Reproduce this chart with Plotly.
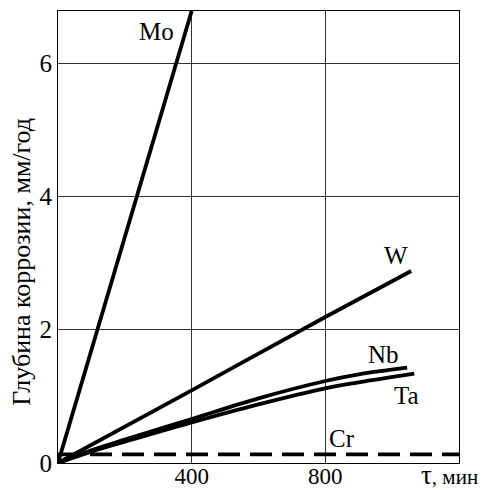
import plotly.graph_objects as go

# Data (time in minutes, corrosion depth in mm/year)
mo_x = [0, 400]
mo_y = [0, 6.78]
w_x = [0, 400, 800, 1057]
w_y = [0, 1.09, 2.19, 2.88]
nb_x = [0, 100, 200, 400, 600, 800, 900, 1045]
nb_y = [0, 0.19, 0.35, 0.66, 0.97, 1.23, 1.33, 1.43]
ta_x = [0, 100, 200, 400, 600, 800, 900, 1066]
ta_y = [0, 0.17, 0.32, 0.61, 0.88, 1.12, 1.21, 1.34]
cr_x = [0, 1200]
cr_y = [0.13, 0.13]

x_ticks = [400, 800]
y_ticks = [0, 2, 4, 6]

labels = [("Mo", 295, 6.48), ("W", 1012, 3.12), ("Nb", 973, 1.63), ("Ta", 1043, 1.02), ("Cr", 849, 0.37)]

FONT = "Liberation Serif, Times New Roman, serif"
fig = go.Figure()
for xs, ys in [(mo_x, mo_y), (w_x, w_y), (nb_x, nb_y), (ta_x, ta_y)]:
    fig.add_trace(go.Scatter(x=xs, y=ys, mode="lines", line=dict(color="black", width=3.8, shape="spline"),
                             showlegend=False, hoverinfo="skip"))
fig.add_trace(go.Scatter(x=cr_x, y=cr_y, mode="lines", line=dict(color="black", width=3.8, dash="22px,10px"),
                         showlegend=False, hoverinfo="skip"))

for t, x, y in labels:
    fig.add_annotation(x=x, y=y, xref="x", yref="y", text=t, showarrow=False,
                       font=dict(family=FONT, size=25, color="black"))

fig.add_annotation(x=1.052, y=0, xref="paper", yref="paper", xanchor="right", yanchor="middle",
                   yshift=-12, showarrow=False,
                   text="<span style='font-size:27px'>τ</span>, мин",
                   font=dict(family=FONT, size=21, color="black"))

# y-axis title as rotated annotation (placed as in reference)
fig.add_annotation(x=-0.09, y=0.445, xref="paper", yref="paper", xanchor="center", yanchor="middle",
                   textangle=-90, showarrow=False, text="Глубина коррозии, мм/год",
                   font=dict(family=FONT, size=26, color="black"))

fig.update_xaxes(range=[0, 1200], tickvals=x_ticks, ticks="", showgrid=True, gridcolor="#333",
                 gridwidth=1, showline=True, linecolor="black", linewidth=1, mirror=True, zeroline=False,
                 automargin=False, ticklabelstandoff=-8,
                 tickfont=dict(family=FONT, size=23, color="black"))
fig.update_yaxes(range=[0, 6.78], tickvals=y_ticks, ticks="", showgrid=True, gridcolor="#333",
                 gridwidth=1, showline=True, linecolor="black", linewidth=1, mirror=True, zeroline=False,
                 automargin=False,
                 tickfont=dict(family=FONT, size=25, color="black"))

fig.update_layout(width=485, height=490, margin=dict(l=58, r=26, t=11, b=27),
                  plot_bgcolor="white", paper_bgcolor="white", font=dict(family=FONT))
fig.write_html("out.html", config={"displayModeBar": False},
               post_script="document.body.style.margin='0';")
